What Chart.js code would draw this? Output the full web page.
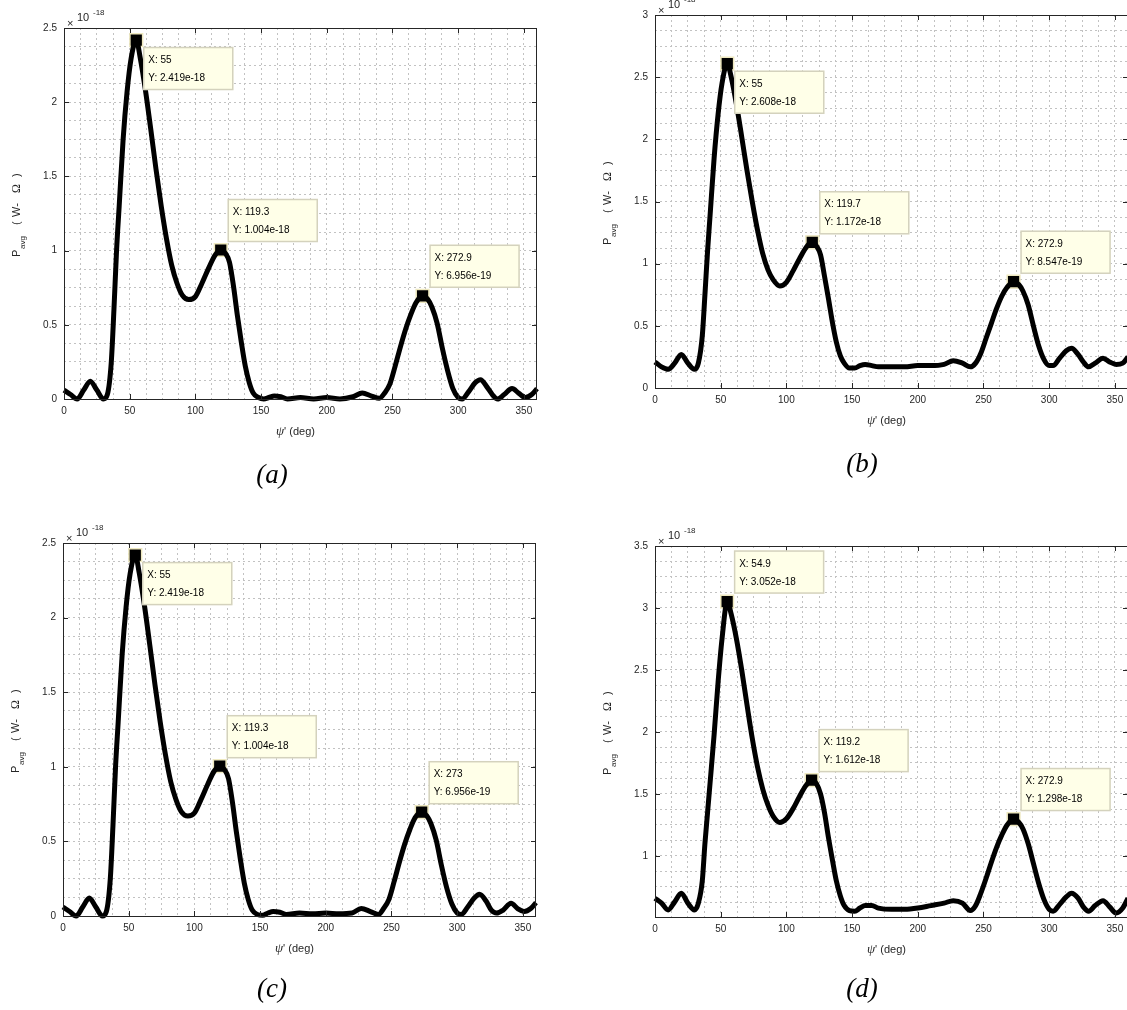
<!DOCTYPE html>
<html>
<head>
<meta charset="utf-8">
<script src="https://cdn.jsdelivr.net/npm/chart.js@4.4.1/dist/chart.umd.min.js"></script>
<style>
    html, body { margin: 0; padding: 0; background: #fff; }
    body { width: 1127px; height: 1010px; position: relative; overflow: hidden; }
    canvas { position: absolute; }
    .tag { position: absolute; font: italic 27px "Liberation Serif", "Times New Roman", serif; color: #000; transform: translate(-50%, -50%); }
</style>
</head>
<body>
<canvas id="chartA" width="563" height="500" style="left:0px;top:0px"></canvas>
<canvas id="chartB" width="545" height="500" style="left:590px;top:0px"></canvas>
<canvas id="chartC" width="563" height="505" style="left:0px;top:505px"></canvas>
<canvas id="chartD" width="545" height="505" style="left:590px;top:505px"></canvas>
<div class="tag" style="left:272px;top:474px">(a)</div>
<div class="tag" style="left:862px;top:463px">(b)</div>
<div class="tag" style="left:272px;top:988px">(c)</div>
<div class="tag" style="left:862px;top:988px">(d)</div>
<script>
// psi' (deg) sample points shared by the four curves
const psi = [
    0, 5, 10, 15, 20, 25, 30, 33, 36, 38,
    40, 42, 45, 48, 51, 55, 58, 62, 66, 70,
    74, 78, 82, 86, 90, 95, 100, 105, 110, 115,
    119.3, 123, 126, 129, 132, 135, 138, 141, 144, 148,
    152, 156, 160, 165, 170, 180, 190, 200, 210, 220,
    227, 234, 240, 244, 248, 252, 256, 260, 264, 268,
    272.9, 277, 280, 284, 288, 292, 296, 300, 303, 308,
    313, 317, 322, 326, 330, 335, 341, 346, 351, 356,
    360
];

// P_avg in units of 1e-18 W-Ohm
const powA = [
    0.06, 0.03, 0.0, 0.06, 0.12, 0.06, 0.0, 0.03, 0.25, 0.6,
    1.0, 1.3, 1.75, 2.07, 2.29, 2.419, 2.3, 2.08, 1.82, 1.55,
    1.3, 1.08, 0.9, 0.78, 0.7, 0.67, 0.69, 0.78, 0.88, 0.97,
    1.004, 0.98, 0.92, 0.76, 0.56, 0.38, 0.22, 0.11, 0.04, 0.01,
    0.0, 0.01, 0.02, 0.015, 0.0, 0.01, 0.0, 0.01, 0.0, 0.015,
    0.04, 0.02, 0.005, 0.04, 0.1, 0.22, 0.35, 0.47, 0.57, 0.65,
    0.6956, 0.67, 0.62, 0.51, 0.34, 0.19, 0.07, 0.01, 0.0, 0.05,
    0.11, 0.13, 0.08, 0.03, 0.0, 0.03, 0.07, 0.04, 0.01, 0.03,
    0.07
];
const powB = [
    0.21, 0.17, 0.15, 0.2, 0.27, 0.2, 0.15, 0.2, 0.42, 0.75,
    1.1, 1.4, 1.85, 2.2, 2.45, 2.608, 2.5, 2.28, 2.02, 1.75,
    1.5, 1.27, 1.08, 0.95, 0.87, 0.82, 0.85, 0.94, 1.04, 1.13,
    1.172, 1.14, 1.07, 0.9, 0.72, 0.53, 0.37, 0.26, 0.2, 0.16,
    0.16, 0.18, 0.19, 0.18, 0.17, 0.17, 0.17, 0.18, 0.18, 0.19,
    0.22, 0.2, 0.17, 0.2, 0.28, 0.4, 0.52, 0.64, 0.74, 0.81,
    0.8547, 0.83, 0.78, 0.67, 0.5, 0.34, 0.23, 0.18, 0.18, 0.24,
    0.3, 0.32, 0.27, 0.21, 0.17, 0.2, 0.24, 0.21, 0.19, 0.2,
    0.25
];
const powC = [
    0.06, 0.03, 0.0, 0.06, 0.12, 0.06, 0.0, 0.03, 0.25, 0.6,
    1.0, 1.3, 1.75, 2.07, 2.29, 2.419, 2.3, 2.08, 1.82, 1.55,
    1.3, 1.08, 0.9, 0.78, 0.7, 0.67, 0.69, 0.78, 0.88, 0.97,
    1.004, 0.98, 0.92, 0.76, 0.56, 0.38, 0.22, 0.11, 0.04, 0.01,
    0.005, 0.02, 0.03, 0.025, 0.01, 0.02, 0.015, 0.02, 0.015, 0.02,
    0.05, 0.03, 0.01, 0.05, 0.11, 0.23, 0.36, 0.48, 0.58, 0.66,
    0.6956, 0.67, 0.62, 0.51, 0.34, 0.19, 0.08, 0.02, 0.01, 0.06,
    0.12, 0.145, 0.1, 0.04, 0.02, 0.04, 0.085, 0.05, 0.03, 0.05,
    0.09
];
const powD = [
    0.66, 0.62, 0.565, 0.63, 0.7, 0.62, 0.565, 0.62, 0.8, 1.1,
    1.35, 1.6, 1.98, 2.4, 2.75, 3.052, 2.95, 2.75, 2.5, 2.22,
    1.95, 1.72, 1.54, 1.41, 1.32, 1.27, 1.3, 1.38, 1.48, 1.57,
    1.612, 1.58, 1.5, 1.35, 1.15, 0.97, 0.8, 0.68, 0.6, 0.56,
    0.555, 0.58, 0.6, 0.6, 0.58, 0.57, 0.57, 0.58, 0.6, 0.62,
    0.64, 0.62, 0.56, 0.6, 0.7, 0.82, 0.95, 1.07, 1.17, 1.25,
    1.298, 1.27, 1.22, 1.1, 0.94, 0.78, 0.65, 0.57, 0.555, 0.61,
    0.67, 0.7, 0.66, 0.59, 0.555, 0.6, 0.64, 0.59, 0.54, 0.58,
    0.66
];

// data tips (peaks)
const peakXA = [55, 119.3, 272.9];
const peakYA = [2.419, 1.004, 0.6956];
const peakXB = [55, 119.7, 272.9];
const peakYB = [2.608, 1.172, 0.8547];
const peakXC = [55, 119.3, 273];
const peakYC = [2.419, 1.004, 0.6956];
const peakXD = [54.9, 119.2, 272.9];
const peakYD = [3.052, 1.612, 1.298];

const xTickStep = 12.5;
const xLabelStep = 50;
const yTickStep = 0.125;
const yLabelStep = 0.5;

const FONT = '"Liberation Sans", Arial, Helvetica, sans-serif';
const SERIF = '"Liberation Serif", "Times New Roman", serif';
const INK = '#262626';

const isMult = (v, step) => Math.abs(v / step - Math.round(v / step)) < 1e-6;

const panels = [
    { id: 'chartA', box: [0, 0, 563, 500], plot: [64, 28, 537, 399], yMin: 0, yMax: 2.5, pow: powA, px: peakXA, py: peakYA, side: ['below', 'above', 'above'] },
    { id: 'chartB', box: [590, 0, 545, 500], plot: [655, 15, 1128, 388], yMin: 0, yMax: 3, pow: powB, px: peakXB, py: peakYB, side: ['below', 'above', 'above'] },
    { id: 'chartC', box: [0, 505, 563, 505], plot: [63, 543, 536, 916], yMin: 0, yMax: 2.5, pow: powC, px: peakXC, py: peakYC, side: ['below', 'above', 'above'] },
    { id: 'chartD', box: [590, 505, 545, 505], plot: [655, 546, 1128, 917], yMin: 0.508, yMax: 3.5, pow: powD, px: peakXD, py: peakYD, side: ['above', 'above', 'above'] }
];

// frame, inward ticks, labels, exponent and data tips drawn on top
const matlabDecor = {
    id: 'matlabDecor',
    afterDraw(chart) {
        const { ctx, chartArea: a, scales: { x, y } } = chart;
        const p = chart.options.plugins.matlabDecor;
        ctx.save();

        ctx.strokeStyle = INK;
        ctx.lineWidth = 1;
        ctx.beginPath();
        x.ticks.forEach(t => {
            if (!isMult(t.value, xLabelStep)) return;
            const px = Math.round(x.getPixelForValue(t.value)) + 0.5;
            ctx.moveTo(px, a.bottom); ctx.lineTo(px, a.bottom - 5);
            ctx.moveTo(px, a.top); ctx.lineTo(px, a.top + 5);
        });
        y.ticks.forEach(t => {
            if (!isMult(t.value, yLabelStep)) return;
            const py = Math.round(y.getPixelForValue(t.value)) + 0.5;
            ctx.moveTo(a.left, py); ctx.lineTo(a.left + 5, py);
            ctx.moveTo(a.right, py); ctx.lineTo(a.right - 5, py);
        });
        ctx.stroke();
        ctx.strokeRect(a.left + 0.5, a.top + 0.5, a.right - a.left - 1, a.bottom - a.top);

        // x10^-18
        ctx.fillStyle = INK;
        ctx.textAlign = 'left';
        ctx.textBaseline = 'alphabetic';
        ctx.font = '11px ' + FONT;
        ctx.fillText('\u00d7', a.left + 3, a.top - 1);
        ctx.font = '11px ' + FONT;
        ctx.fillText('10', a.left + 13, a.top - 7);
        ctx.font = '8px ' + FONT;
        ctx.fillText('-18', a.left + 29, a.top - 13);

        // x axis title
        const cx = (a.left + a.right) / 2 - 5;
        const by = a.bottom + 36;
        ctx.font = 'italic 13px ' + SERIF;
        const wPsi = ctx.measureText('\u03c8').width;
        ctx.font = '11px ' + FONT;
        const rest = "' (deg)";
        const wRest = ctx.measureText(rest).width;
        let sx = cx - (wPsi + wRest) / 2;
        ctx.font = 'italic 13px ' + SERIF;
        ctx.fillText('\u03c8', sx, by);
        ctx.font = '11px ' + FONT;
        ctx.fillText(rest, sx + wPsi, by);

        // y axis title, rotated
        ctx.save();
        ctx.translate(a.left - 44, (a.top + a.bottom) / 2);
        ctx.rotate(-Math.PI / 2);
        const parts = [
            { t: 'P', f: '11px ' + FONT, at: 0, dy: 0 },
            { t: 'avg', f: '8px ' + FONT, at: 8, dy: 5 },
            { t: '(', f: '11px ' + FONT, at: 32, dy: 0 },
            { t: 'W-', f: '11px ' + FONT, at: 40, dy: 0 },
            { t: '\u03a9', f: '12px ' + SERIF, at: 64, dy: 0 },
            { t: ')', f: '11px ' + FONT, at: 80, dy: 0 }
        ];
        const total = 87;
        parts.forEach(s => {
            ctx.font = s.f;
            ctx.fillText(s.t, -total / 2 + s.at, s.dy);
        });
        ctx.restore();

        // data tips
        const meta = chart.getDatasetMeta(1);
        meta.data.forEach((pt, i) => {
            const w = 90, h = 43;
            const left = pt.x + 7;
            const top = p.side[i] === 'below' ? pt.y + 7 : pt.y - 8 - h;
            ctx.fillStyle = '#ffffe8';
            ctx.fillRect(left, top, w, h);
            ctx.strokeStyle = '#d4d2bd';
            ctx.lineWidth = 1.5;
            ctx.strokeRect(left + 0.5, top + 0.5, w - 1, h - 1);
            ctx.fillStyle = '#000';
            ctx.font = '10px ' + FONT;
            ctx.fillText('X: ' + p.px[i], left + 5, top + 16);
            ctx.fillText('Y: ' + (p.py[i] * 1e-18).toExponential(3), left + 5, top + 34);
        });

        ctx.restore();
    }
};

panels.forEach(p => {
    const [bx, by, bw, bh] = p.box;
    const [L, T, R, B] = p.plot;
    const xAxisH = 30;

    new Chart(document.getElementById(p.id), {
        type: 'line',
        data: {
            datasets: [{
                data: psi.map((v, i) => ({ x: v, y: p.pow[i] })),
                borderColor: '#000',
                borderWidth: 5,
                pointRadius: 0,
                cubicInterpolationMode: 'monotone',
                clip: false
            }, {
                data: p.px.map((v, i) => ({ x: v, y: p.py[i] })),
                showLine: false,
                pointStyle: 'rect',
                pointRadius: 9,
                backgroundColor: '#000',
                borderColor: '#eee8bf',
                borderWidth: 1.5,
                clip: false
            }]
        },
        plugins: [matlabDecor],
        options: {
            responsive: false,
            animation: false,
            events: [],
            layout: {
                autoPadding: false,
                padding: { left: 0, top: T - by, right: bx + bw - R, bottom: by + bh - B - xAxisH }
            },
            plugins: {
                legend: { display: false },
                tooltip: { enabled: false },
                matlabDecor: { px: p.px, py: p.py, side: p.side }
            },
            scales: {
                x: {
                    type: 'linear',
                    min: 0,
                    max: 360,
                    afterFit: s => { s.height = xAxisH; },
                    grid: { color: '#c2c2c2', lineWidth: 1, drawTicks: false },
                    border: { display: false, dash: [2, 3] },
                    ticks: {
                        stepSize: xTickStep,
                        includeBounds: false,
                        autoSkip: false,
                        maxRotation: 0,
                        padding: 6,
                        color: INK,
                        font: { family: FONT, size: 10 },
                        callback: v => isMult(v, xLabelStep) ? String(v) : ''
                    }
                },
                y: {
                    min: p.yMin,
                    max: p.yMax,
                    afterFit: s => { s.width = L - bx; },
                    grid: { color: '#c2c2c2', lineWidth: 1, drawTicks: false },
                    border: { display: false, dash: [2, 3] },
                    ticks: {
                        stepSize: yTickStep,
                        includeBounds: false,
                        autoSkip: false,
                        padding: 7,
                        color: INK,
                        font: { family: FONT, size: 10 },
                        callback: v => isMult(v, yLabelStep) ? String(v) : ''
                    }
                }
            }
        }
    });
});
</script>
</body>
</html>
